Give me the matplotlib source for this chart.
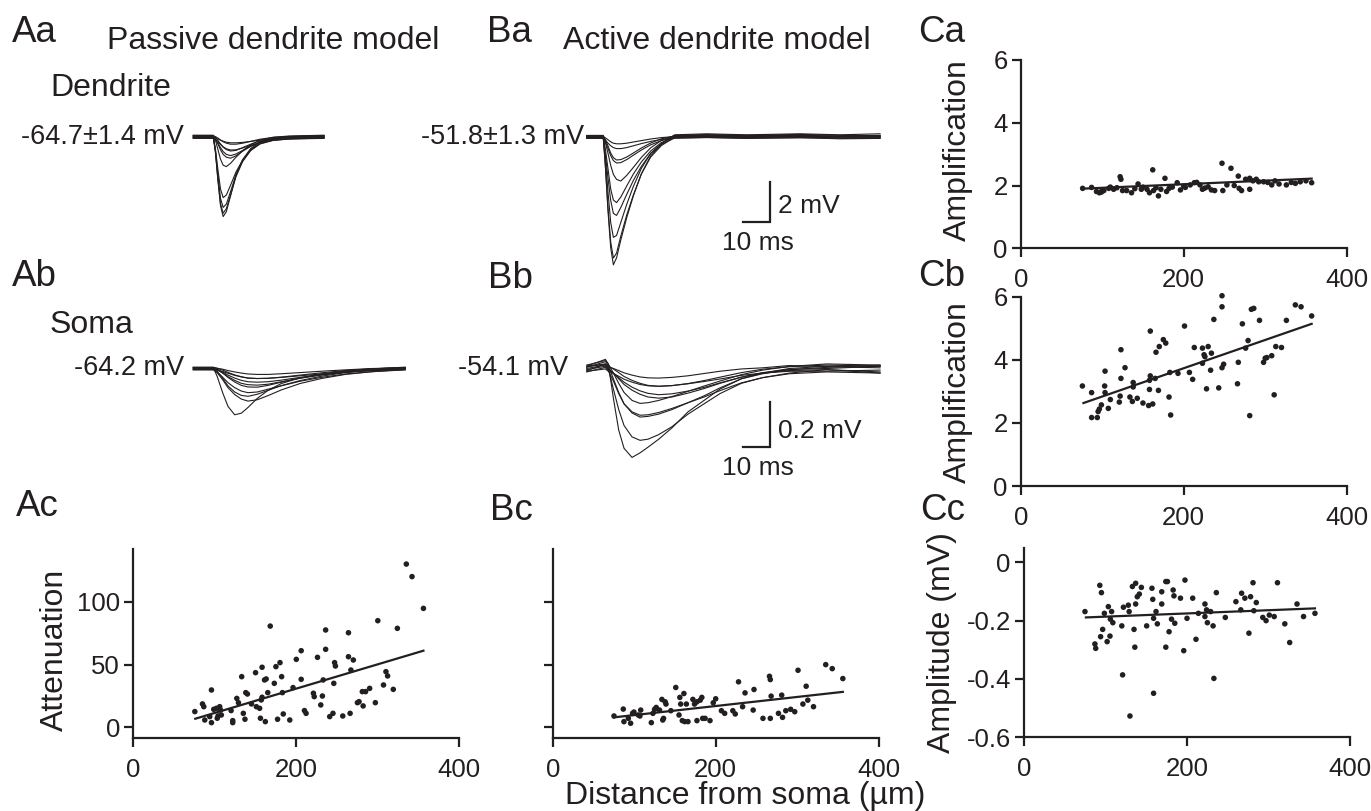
import matplotlib
matplotlib.use("Agg")
import matplotlib.pyplot as plt
import numpy as np

plt.rcParams['font.family'] = ['Liberation Sans', 'DejaVu Sans']
INK = '#231f20'

# ---------------- trace data (time in ms, voltage in mV relative to baseline) -------------
AA_T = [0, 7.5, 8.3, 9.2, 10.2, 11.2, 12.4, 14, 16, 18.5, 21.5, 25, 30, 36, 49]
AA_TRACES = [
    [0, 0, -0.8, -2.2, -3.5, -4.05, -3.8, -3.0, -2.0, -1.2, -0.65, -0.3, -0.12, -0.05, 0],
    [0, 0, -0.75, -2.05, -3.3, -3.78, -3.55, -2.85, -1.95, -1.2, -0.65, -0.3, -0.12, -0.05, 0],
    [0, 0, -0.7, -1.9, -3.1, -3.55, -3.38, -2.75, -1.9, -1.2, -0.65, -0.3, -0.12, -0.05, 0],
    [0, 0, -0.55, -1.55, -2.55, -2.98, -2.85, -2.35, -1.7, -1.1, -0.62, -0.3, -0.12, -0.05, 0],
    [0, 0, -0.25, -0.7, -1.2, -1.5, -1.57, -1.4, -1.1, -0.78, -0.48, -0.25, -0.1, -0.04, 0],
    [0, 0, -0.12, -0.35, -0.65, -0.88, -1.02, -1.07, -0.95, -0.72, -0.48, -0.27, -0.11, -0.04, 0],
    [0, 0, -0.1, -0.28, -0.52, -0.72, -0.86, -0.92, -0.84, -0.66, -0.45, -0.26, -0.11, -0.04, 0],
    [0, 0, -0.08, -0.22, -0.4, -0.56, -0.68, -0.75, -0.72, -0.58, -0.41, -0.24, -0.1, -0.04, 0],
    [0, 0, -0.06, -0.16, -0.3, -0.42, -0.52, -0.58, -0.57, -0.48, -0.35, -0.21, -0.09, -0.03, 0],
    [0, 0, -0.04, -0.11, -0.21, -0.3, -0.37, -0.42, -0.42, -0.37, -0.28, -0.17, -0.08, -0.03, 0],
    [0, 0, -0.02, -0.06, -0.12, -0.17, -0.22, -0.25, -0.25, -0.23, -0.18, -0.12, -0.06, -0.02, 0],
]
AA_BASE = [0.06, -0.04, 0.02, -0.06, 0.08, 0.0, -0.02, 0.04, -0.08, 0.05, -0.05]

BA_T = [0, 6.2, 7.0, 8.0, 9.0, 10.0, 11.2, 12.8, 15, 17.5, 20.5, 24, 28, 33, 45, 60, 80, 95, 110]
BA_TRACES = [
    [0, 0, -1.5, -3.8, -5.6, -6.45, -6.1, -5.2, -4.1, -3.0, -1.9, -1.0, -0.4, 0.05, 0.1, 0.05, 0.1, 0.05, 0.1],
    [0, 0, -1.4, -3.5, -5.2, -6.0, -5.75, -4.9, -3.85, -2.85, -1.8, -0.95, -0.38, 0.05, 0.08, 0.03, 0.08, 0.05, 0.05],
    [0, 0, -1.1, -2.8, -4.3, -5.05, -4.95, -4.3, -3.4, -2.5, -1.6, -0.85, -0.35, 0.03, 0.06, 0.02, 0.06, 0.0, 0.03],
    [0, 0, -0.8, -2.0, -3.1, -3.75, -3.85, -3.45, -2.8, -2.1, -1.4, -0.75, -0.3, 0.02, 0.05, 0.0, 0.04, -0.02, 0.0],
    [0, 0, -0.6, -1.6, -2.6, -3.15, -3.28, -3.0, -2.45, -1.85, -1.25, -0.7, -0.28, 0.0, 0.05, 0.02, 0.03, 0.0, 0.02],
    [0, 0, -0.35, -0.9, -1.5, -1.95, -2.2, -2.28, -2.0, -1.6, -1.1, -0.62, -0.25, 0.0, 0.04, 0.0, 0.05, 0.0, -0.02],
    [0, 0, -0.2, -0.55, -0.9, -1.15, -1.27, -1.25, -1.1, -0.88, -0.62, -0.36, -0.15, 0.0, 0.03, 0.0, 0.03, -0.02, 0.0],
    [0, 0, -0.18, -0.5, -0.85, -1.08, -1.2, -1.18, -1.05, -0.85, -0.6, -0.35, -0.14, 0.0, 0.05, 0.02, 0.02, 0.0, 0.03],
    [0, 0, -0.1, -0.25, -0.38, -0.47, -0.52, -0.52, -0.47, -0.38, -0.27, -0.16, -0.06, 0.0, 0.03, 0.0, 0.02, 0.0, 0.0],
    [0, 0, -0.06, -0.16, -0.26, -0.33, -0.36, -0.36, -0.33, -0.27, -0.2, -0.12, -0.05, 0.0, 0.02, 0.0, 0.02, -0.01, 0.0],
]
BA_BASE = [0.06, -0.05, 0.03, -0.07, 0.0, 0.08, -0.03, 0.05, -0.06, 0.02]

AB_T = [0, 7.5, 9, 11, 13, 15.5, 18, 20.5, 24, 28, 33, 40, 48, 57, 67, 79.5]
AB_TRACES = [
    [0, 0, -0.04, -0.11, -0.17, -0.207, -0.2, -0.175, -0.135, -0.1, -0.07, -0.045, -0.028, -0.015, -0.006, 0],
    [0, 0, -0.015, -0.045, -0.08, -0.11, -0.13, -0.139, -0.133, -0.115, -0.09, -0.062, -0.04, -0.022, -0.01, 0],
    [0, 0, -0.015, -0.045, -0.078, -0.105, -0.12, -0.124, -0.115, -0.098, -0.077, -0.055, -0.036, -0.02, -0.009, 0],
    [0, 0, -0.01, -0.032, -0.056, -0.078, -0.093, -0.1, -0.097, -0.085, -0.07, -0.05, -0.033, -0.018, -0.008, 0],
    [0, 0, -0.008, -0.025, -0.045, -0.065, -0.08, -0.087, -0.088, -0.08, -0.066, -0.048, -0.032, -0.018, -0.008, 0],
    [0, 0, -0.006, -0.02, -0.036, -0.052, -0.065, -0.071, -0.073, -0.069, -0.058, -0.043, -0.029, -0.016, -0.007, 0],
    [0, 0, -0.004, -0.014, -0.027, -0.04, -0.05, -0.056, -0.058, -0.056, -0.049, -0.037, -0.025, -0.014, -0.006, 0],
    [0, 0, -0.003, -0.011, -0.021, -0.032, -0.04, -0.046, -0.048, -0.047, -0.042, -0.033, -0.023, -0.013, -0.005, 0],
    [0, 0, -0.002, -0.008, -0.016, -0.025, -0.032, -0.037, -0.039, -0.038, -0.034, -0.027, -0.019, -0.011, -0.004, 0],
    [0, 0, -0.002, -0.006, -0.012, -0.018, -0.023, -0.027, -0.029, -0.029, -0.026, -0.021, -0.015, -0.009, -0.003, 0],
]
AB_BASE = [0.004, -0.004, 0.002, -0.006, 0.006, 0.0, -0.002, 0.004, -0.005, 0.003]

BB_T = [0, 7, 8.1, 10, 12, 14, 17, 20, 23, 27, 32, 38, 44, 50, 58, 66, 76, 90, 110]
BB_TRACES = [
    [0, 0.03, 0.01, -0.14, -0.28, -0.36, -0.40, -0.38, -0.355, -0.32, -0.27, -0.2, -0.15, -0.1, -0.055, -0.03, -0.01, 0.0, 0.0],
    [0, 0.03, 0.01, -0.08, -0.17, -0.24, -0.29, -0.305, -0.3, -0.28, -0.245, -0.19, -0.145, -0.1, -0.055, -0.03, -0.01, 0.005, -0.01],
    [0, 0.025, 0.01, -0.05, -0.11, -0.16, -0.2, -0.218, -0.215, -0.205, -0.185, -0.155, -0.125, -0.09, -0.05, -0.028, -0.01, 0.0, 0.01],
    [0, 0.02, 0.005, -0.04, -0.095, -0.14, -0.175, -0.19, -0.188, -0.178, -0.16, -0.135, -0.11, -0.082, -0.048, -0.025, -0.008, 0.0, -0.005],
    [0, 0.02, 0.005, -0.035, -0.08, -0.12, -0.155, -0.168, -0.165, -0.155, -0.138, -0.115, -0.092, -0.07, -0.042, -0.022, -0.006, 0.005, 0.0],
    [0, 0.015, 0.0, -0.02, -0.045, -0.07, -0.095, -0.113, -0.125, -0.13, -0.125, -0.108, -0.088, -0.065, -0.038, -0.018, -0.004, 0.0, 0.01],
    [0, 0.015, 0, -0.015, -0.035, -0.055, -0.077, -0.093, -0.104, -0.11, -0.106, -0.094, -0.078, -0.058, -0.033, -0.015, -0.004, 0.0, -0.01],
    [0, 0.01, 0, -0.012, -0.028, -0.045, -0.062, -0.075, -0.084, -0.088, -0.085, -0.076, -0.063, -0.048, -0.028, -0.013, -0.002, 0.005, 0.0],
    [0, 0.01, 0, -0.01, -0.022, -0.035, -0.048, -0.058, -0.064, -0.066, -0.063, -0.055, -0.045, -0.034, -0.018, -0.008, 0.0, 0.0, 0.005],
    [0, 0.01, 0, -0.008, -0.017, -0.027, -0.037, -0.045, -0.049, -0.05, -0.047, -0.04, -0.03, -0.02, -0.01, -0.005, 0.005, 0.0, -0.005],
]
BB_BASE = [0.01, -0.01, 0.005, -0.015, 0.015, 0.0, -0.005, 0.01, -0.012, 0.008]

# ---------------- scatter data (distance from soma, µm) -----------------
AC_X = [75.5, 84.9, 86.5, 87.7, 93.8, 95.9, 95.9, 98.7, 102, 104, 103, 106, 108, 107, 120, 122, 122, 127, 129, 133,
        135, 137, 138, 140, 145, 150, 151, 155, 156, 158, 157, 158, 161, 163, 162, 165, 168, 173, 175, 177,
        180, 182, 183, 184, 192, 196, 200, 206, 206, 210, 212, 221, 222, 226, 230, 232, 233, 236, 236, 241,
        245, 246, 247, 248, 257, 264, 264, 266, 267, 270, 275, 277, 281, 282, 285, 290, 297, 300, 307, 310,
        312, 319, 324, 335, 342, 356]
AC_Y = [12.5, 18.6, 16.4, 5.8, 8.5, 29.7, 3.7, 14.3, 15.1, 9.0, 7.2, 16.4, 9.8, 13.8, 13.3, 5.3, 3.7, 23.0, 19.6, 40.3,
        11.1, 6.4, 27.6, 26.5, 18.6, 43.5, 16.4, 15.1, 7.2, 47.8, 21.8, 23.9, 37.7, 38.5, 4.5, 27.6, 80.6, 35.0, 48.3, 6.4,
        51.5, 40.3, 27.6, 10.6, 5.8, 31.6, 54.1, 61.0, 38.2, 13.3, 11.1, 27.1, 24.4, 55.7, 17.8, 24.9, 37.7, 77.5, 62.1, 8.5,
        11.1, 35.0, 51.5, 48.8, 9.0, 75.3, 56.2, 11.1, 45.6, 53.6, 19.6, 20.4, 28.4, 17.0, 28.4, 31.0, 19.6, 84.9, 33.7, 44.3,
        40.9, 30.2, 78.8, 130, 120, 94.7]
AC_FIT_X = [76, 356]
AC_FIT_Y = [6.8, 61.0]

BC_X = [75.2, 86.6, 87.4, 92.8, 95.6, 98, 99.7, 105, 107, 108, 121, 123, 125, 127, 131, 134, 135, 136, 138, 139,
        145, 151, 155, 156, 157, 159, 161, 162, 164, 166, 172, 174, 177, 177, 181, 183, 184, 187, 193, 197,
        200, 207, 211, 221, 224, 228, 233, 236, 246, 247, 258, 266, 267, 267, 268, 277, 281, 282, 286, 292,
        297, 301, 307, 311, 313, 320, 335, 343, 356]
BC_Y = [9.0, 14.5, 4.5, 7.1, 3.2, 11.1, 12.1, 9.8, 9.0, 13.7, 3.7, 11.1, 14.3, 15.8, 13.7, 22.2, 5.8, 7.1, 20.3, 18.5,
        13.2, 31.7, 9.8, 23.8, 18.5, 5.3, 26.9, 4.5, 18.5, 4.5, 22.2, 18.5, 20.3, 5.3, 21.6, 23.8, 7.1, 7.1, 5.3, 19.5,
        22.7, 13.2, 11.1, 13.2, 10.6, 36.2, 16.4, 27.4, 13.7, 30.1, 7.1, 40.6, 38.0, 7.1, 24.8, 11.1, 25.6, 7.9, 13.2, 14.3,
        12.4, 45.4, 18.5, 32.7, 21.6, 16.4, 49.9, 46.7, 38.8]
BC_FIT_X = [75, 356]
BC_FIT_Y = [7.9, 28.2]

CA_X = [76, 87, 93, 96.5, 99, 102, 108, 114, 122, 123, 125, 130, 136, 144, 148, 155, 158, 162, 163, 169,
        172, 177, 179, 182, 192, 196, 202, 208, 213, 220, 223, 230, 234, 238, 247, 248, 253, 258, 267, 268,
        271, 281, 281, 289, 292, 298, 308, 317, 326, 337, 343, 357,
        100, 110, 118, 140, 150, 166, 186, 200, 216, 226, 262, 276, 285, 303, 312, 332, 350]
CA_Y = [1.91, 1.94, 1.81, 1.77, 1.79, 1.84, 1.91, 1.88, 2.28, 2.2, 1.84, 1.84, 1.77, 2.05, 1.88, 1.88, 1.77, 2.5, 1.84, 1.67,
        1.88, 2.23, 1.81, 1.91, 2.09, 1.86, 1.94, 2.02, 2.09, 2.02, 1.88, 1.96, 1.86, 1.84, 2.71, 1.84, 2.02, 2.55, 2.3, 1.91,
        1.84, 1.88, 2.23, 2.2, 2.12, 2.12, 2.02, 2.05, 2.02, 2.07, 2.12, 2.09,
        1.86, 1.95, 1.93, 1.9, 1.95, 1.93, 1.95, 1.98, 2.1, 1.92, 2.0, 2.2, 2.15, 2.1, 2.15, 2.1, 2.15]
CA_FIT_X = [76, 357]
CA_FIT_Y = [1.9, 2.22]

CB_X = [75.7, 87, 87, 94, 95, 96.5, 99, 103, 103.5, 103.5, 107.5, 110, 121, 122, 123, 123, 128, 134, 137, 138,
        138, 143, 150, 157, 158, 158, 159, 159, 162, 165, 166, 169, 170, 175, 178, 182, 183, 184, 193, 201,
        207, 211, 213, 223, 223, 225, 226, 228, 230, 233, 234, 237, 243, 247, 247, 247, 249, 266, 267, 272,
        276, 279, 281, 283, 286, 293, 298, 300, 302, 308, 311, 313, 320, 326, 337, 344, 357]
CB_Y = [3.17, 2.96, 2.17, 2.17, 2.36, 2.44, 2.57, 3.17, 3.64, 2.96, 2.46, 2.74, 2.66, 2.85, 3.41, 4.32, 3.75, 2.82, 2.68, 3.28,
        3.14, 2.78, 2.63, 2.55, 3.35, 3.06, 3.49, 4.91, 2.6, 3.41, 4.24, 3.03, 4.42, 4.64, 4.53, 2.82, 3.6, 2.25, 3.57, 5.07,
        3.6, 3.38, 4.39, 3.89, 4.37, 4.16, 4.1, 3.08, 4.42, 3.67, 4.21, 5.28, 3.11, 6.03, 5.68, 3.75, 3.86, 3.24, 3.92, 5.14,
        4.37, 4.61, 2.23, 5.6, 5.63, 5.25, 3.92, 4.05, 4.07, 4.13, 2.89, 4.42, 4.39, 5.25, 5.74, 5.68, 5.39]
CB_FIT_X = [77, 357]
CB_FIT_Y = [2.63, 5.14]

CC_X = [74.8, 87, 88, 93, 94, 95, 96.5, 98.6, 102, 103.5, 105.5, 106, 107.5, 109, 120, 121, 122, 128, 129, 130,
        133, 135, 136, 137, 137, 139, 141.5, 144, 150.5, 157, 158, 159, 159, 162, 163.6, 169, 169, 174, 174, 176,
        178, 181, 183, 184, 185, 192, 196, 197.5, 200, 207, 211, 214, 222, 222, 224, 225, 229, 232, 233, 236,
        247, 260, 266, 267, 271, 276, 278, 281, 282, 285, 293, 297, 301, 307, 311, 320, 326, 335, 343, 357]
CC_Y = [-0.169, -0.28, -0.295, -0.079, -0.255, -0.104, -0.23, -0.175, -0.272, -0.152, -0.253, -0.195, -0.169, -0.207, -0.218,
        -0.386, -0.154, -0.147, -0.169, -0.527, -0.083, -0.23, -0.291, -0.143, -0.072, -0.118, -0.109, -0.086, -0.218, -0.089,
        -0.127, -0.192, -0.449, -0.169, -0.211, -0.101, -0.143, -0.291, -0.066, -0.066, -0.238, -0.195, -0.095, -0.115, -0.209,
        -0.123, -0.303, -0.061, -0.192, -0.123, -0.264, -0.175, -0.143, -0.186, -0.163, -0.207, -0.169, -0.218, -0.398, -0.104,
        -0.189, -0.135, -0.163, -0.106, -0.123, -0.243, -0.118, -0.07, -0.166, -0.138, -0.189, -0.2, -0.181, -0.186, -0.07,
        -0.211, -0.275, -0.143, -0.186, -0.175]
CC_FIT_X = [76, 357]
CC_FIT_Y = [-0.189, -0.158]

X_TICKS = [0, 200, 400]

# ---------------- figure -----------------
W, H = 1371, 811
fig = plt.figure(figsize=(W / 100, H / 100), dpi=100)


def px_axes(left, top, right, bottom):
    return fig.add_axes([left / W, 1 - bottom / H, (right - left) / W, (bottom - top) / H])


def ftext(x, y, s, size, ha='left', va='center', rot=0):
    fig.text(x / W, 1 - y / H, s, fontsize=size, ha=ha, va=va, rotation=rot, color=INK)


def trace_axes(box, t0_px, v0_px, px_ms, px_mv):
    left, top, right, bottom = box
    ax = px_axes(left, top, right, bottom)
    ax.set_xlim((left - t0_px) / px_ms, (right - t0_px) / px_ms)
    ax.set_ylim(-(bottom - v0_px) / px_mv, -(top - v0_px) / px_mv)
    ax.axis('off')
    return ax


def draw_traces(ax, t, traces, base, lw=0.8):
    for tr, b in zip(traces, base):
        ax.plot(t, np.asarray(tr) + b, color=INK, lw=lw, solid_joinstyle='round')


def scale_bar(ax, corner_t, corner_v, dt, dv):
    ax.plot([corner_t - dt, corner_t, corner_t], [corner_v, corner_v, corner_v + dv],
            color=INK, lw=1.6, clip_on=False, solid_joinstyle='miter')


PX_MS = 2.667
PX_MV_D = 20.0
PX_MV_S = 228.0

ax_aa = trace_axes((185, 112, 345, 232), 193.3, 136.8, PX_MS, PX_MV_D)
draw_traces(ax_aa, AA_T, AA_TRACES, AA_BASE)

ax_ba = trace_axes((580, 112, 895, 280), 586.7, 137.0, PX_MS, PX_MV_D)
draw_traces(ax_ba, BA_T, BA_TRACES, BA_BASE)
scale_bar(ax_ba, (770 - 586.7) / PX_MS, -(221.7 - 137.0) / PX_MV_D, 10, 2)

ax_ab = trace_axes((185, 345, 415, 430), 193.3, 368.5, PX_MS, PX_MV_S)
draw_traces(ax_ab, AB_T, AB_TRACES, AB_BASE)

ax_bb = trace_axes((580, 345, 895, 475), 586.7, 368.5, PX_MS, PX_MV_S)
draw_traces(ax_bb, BB_T, BB_TRACES, BB_BASE)
scale_bar(ax_bb, (770 - 586.7) / PX_MS, -(447.3 - 368.5) / PX_MV_S, 10, 0.2)


def scatter_axes(box, ylim, yticks, ylabels, xs, ys, fx, fy):
    ax = px_axes(*box)
    ax.scatter(xs, ys, s=16, color=INK, edgecolors='none', zorder=3, clip_on=False)
    ax.plot(fx, fy, color=INK, lw=1.6, zorder=4)
    ax.set_xlim(0, 400)
    ax.set_ylim(*ylim)
    ax.set_xticks(X_TICKS)
    ax.set_xticklabels([str(v) for v in X_TICKS])
    ax.set_yticks(yticks)
    ax.set_yticklabels(ylabels)
    for s in ['top', 'right']:
        ax.spines[s].set_visible(False)
    for s in ['left', 'bottom']:
        ax.spines[s].set_linewidth(1.6)
        ax.spines[s].set_color(INK)
    ax.tick_params(direction='out', length=6.5, width=1.6, colors=INK, labelsize=18.5)
    ax.tick_params(axis='x', pad=8)
    ax.tick_params(axis='y', pad=3)
    ax.patch.set_alpha(0)
    return ax


scatter_axes((133.3, 549, 459.3, 737.7), (-8.3, 142), [0, 50, 100], ['0', '50', '100'],
             AC_X, AC_Y, AC_FIT_X, AC_FIT_Y)
scatter_axes((552.7, 549, 878.7, 737.7), (-8.3, 142), [0, 50, 100], ['', '', ''],
             BC_X, BC_Y, BC_FIT_X, BC_FIT_Y)
scatter_axes((1020.7, 60, 1346.7, 248.3), (0, 6), [0, 2, 4, 6], ['0', '2', '4', '6'],
             CA_X, CA_Y, CA_FIT_X, CA_FIT_Y)
scatter_axes((1020.7, 296.7, 1346.7, 486), (0, 6), [0, 2, 4, 6], ['0', '2', '4', '6'],
             CB_X, CB_Y, CB_FIT_X, CB_FIT_Y)
scatter_axes((1024, 548.3, 1350, 737.3), (-0.6, 0.048), [0, -0.2, -0.4, -0.6], ['0', '-0.2', '-0.4', '-0.6'],
             CC_X, CC_Y, CC_FIT_X, CC_FIT_Y)

# ---------------- text -----------------
PANEL = 26.5
for s, x, y in [('Aa', 12, 32), ('Ba', 487, 32), ('Ca', 918, 32),
                ('Ab', 12, 276), ('Bb', 488, 278), ('Cb', 918, 276),
                ('Ac', 16, 507), ('Bc', 490, 511), ('Cc', 920, 510)]:
    ftext(x, y, s, PANEL)

ftext(107, 41, 'Passive dendrite model', 23)
ftext(563, 41, 'Active dendrite model', 23)
ftext(50, 88, 'Dendrite', 23)
ftext(50, 325, 'Soma', 23)

ftext(184, 137, '-64.7±1.4 mV', 19.5, ha='right')
ftext(584, 137, '-51.8±1.3 mV', 19.5, ha='right')
ftext(184, 368, '-64.2 mV', 19.5, ha='right')
ftext(568, 368, '-54.1 mV', 19.5, ha='right')

ftext(778, 206, '2 mV', 19)
ftext(758, 243, '10 ms', 19, ha='center')
ftext(778, 431, '0.2 mV', 19)
ftext(758, 468, '10 ms', 19, ha='center')

ftext(55, 650, 'Attenuation', 23, ha='center', rot=90)
ftext(958, 150, 'Amplification', 23, ha='center', rot=90)
ftext(958, 392, 'Amplification', 23, ha='center', rot=90)
ftext(942, 643, 'Amplitude (mV)', 23, ha='center', rot=90)
ftext(745, 796, 'Distance from soma (µm)', 23, ha='center')

fig.savefig('out.png', dpi=100, facecolor='white')
